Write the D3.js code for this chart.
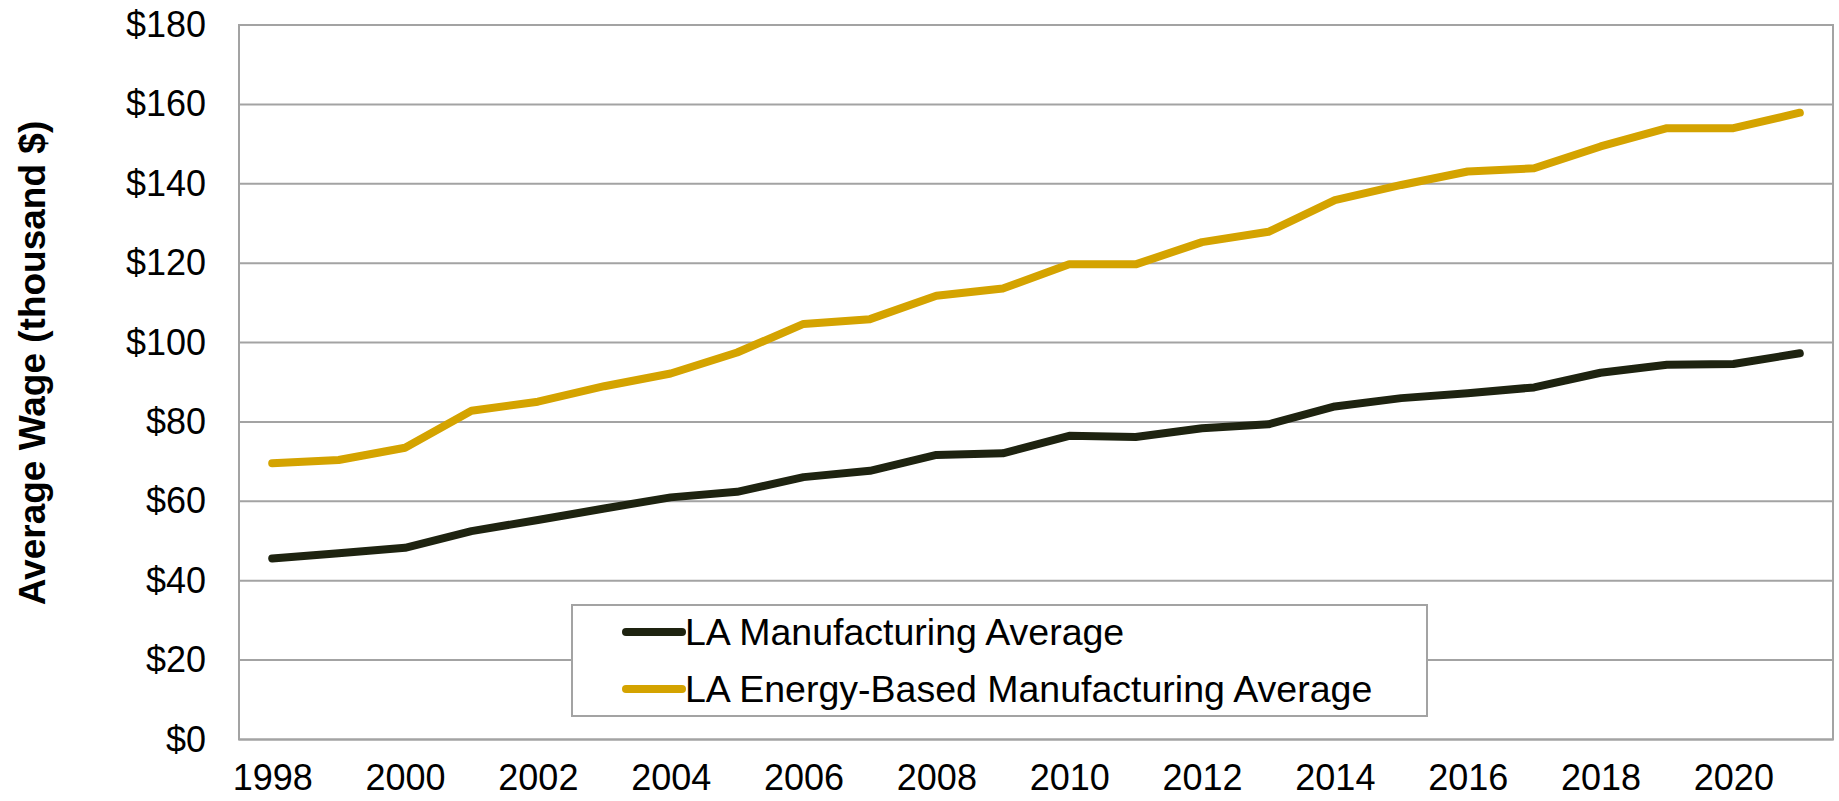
<!DOCTYPE html>
<html>
<head>
<meta charset="utf-8">
<script src="https://cdn.jsdelivr.net/npm/d3@7"></script>
<style>
  html, body { margin: 0; padding: 0; background: #ffffff; }
  svg { display: block; font-family: "Liberation Sans", Arial, sans-serif; }
</style>
</head>
<body>
<svg id="chart" width="1839" height="801"></svg>
<script>
// Average annual wage, thousand dollars
const years = [1998, 1999, 2000, 2001, 2002, 2003, 2004, 2005, 2006, 2007, 2008, 2009,
               2010, 2011, 2012, 2013, 2014, 2015, 2016, 2017, 2018, 2019, 2020, 2021];
const laManufacturing = [45.6, 46.9, 48.3, 52.5, 55.3, 58.2, 61.0, 62.4, 66.1, 67.7, 71.7, 72.1,
                         76.5, 76.2, 78.4, 79.4, 83.9, 86.0, 87.2, 88.7, 92.4, 94.4, 94.6, 97.3];
const laEnergyManufacturing = [69.6, 70.4, 73.5, 82.8, 85.1, 89.0, 92.2, 97.5, 104.7, 105.9, 111.8, 113.6,
                               119.7, 119.7, 125.3, 127.9, 135.9, 139.7, 143.1, 143.9, 149.4, 154.0, 154.0, 157.9];
const yTicks = [0, 20, 40, 60, 80, 100, 120, 140, 160, 180];
const xTickYears = [1998, 2000, 2002, 2004, 2006, 2008, 2010, 2012, 2014, 2016, 2018, 2020];
const seriesNames = ["LA Manufacturing Average", "LA Energy-Based Manufacturing Average"];
const seriesColors = ["#1e2310", "#d4a300"];

const svg = d3.select("#chart");
const plot = { left: 239, right: 1833, top: 25, bottom: 739.5 };
const grey = "#a3a3a3";

const x = d3.scalePoint().domain(years).range([plot.left, plot.right]).padding(0.5);
const y = d3.scaleLinear().domain([0, 180]).range([plot.bottom, plot.top]);

// horizontal gridlines
svg.append("g")
  .selectAll("line")
  .data(yTicks)
  .join("line")
  .attr("x1", plot.left).attr("x2", plot.right)
  .attr("y1", d => y(d)).attr("y2", d => y(d))
  .attr("stroke", grey).attr("stroke-width", 2);

// plot frame
svg.append("rect")
  .attr("x", plot.left).attr("y", plot.top)
  .attr("width", plot.right - plot.left).attr("height", plot.bottom - plot.top)
  .attr("fill", "none").attr("stroke", grey).attr("stroke-width", 2);

// y axis labels
const yAxis = d3.axisLeft(y).tickValues(yTicks).tickFormat(d => "$" + d).tickSize(0).tickPadding(33);
const gy = svg.append("g").attr("transform", `translate(${plot.left},0)`).call(yAxis);
gy.select(".domain").remove();
gy.selectAll("text")
  .attr("font-size", 36).attr("fill", "#000")
  .attr("font-family", "'Liberation Sans', Arial, sans-serif");

// x axis labels
const xAxis = d3.axisBottom(x).tickValues(xTickYears).tickSize(0).tickPadding(25);
const gx = svg.append("g").attr("transform", `translate(0,${plot.bottom})`).call(xAxis);
gx.select(".domain").remove();
gx.selectAll("text")
  .attr("font-size", 36).attr("fill", "#000")
  .attr("font-family", "'Liberation Sans', Arial, sans-serif");

// y axis title
svg.append("text")
  .attr("transform", "translate(45,363) rotate(-90)")
  .attr("text-anchor", "middle")
  .attr("font-size", 37).attr("font-weight", "bold").attr("fill", "#000")
  .text("Average Wage (thousand $)");

// series lines
const line = d3.line().x((d, i) => x(years[i])).y(d => y(d));
[laManufacturing, laEnergyManufacturing].forEach((vals, k) => {
  svg.append("path")
    .datum(vals)
    .attr("d", line)
    .attr("fill", "none")
    .attr("stroke", seriesColors[k])
    .attr("stroke-width", 8)
    .attr("stroke-linejoin", "round")
    .attr("stroke-linecap", "round");
});

// legend
const legend = svg.append("g").attr("transform", "translate(572,605)");
legend.append("rect")
  .attr("width", 855).attr("height", 111)
  .attr("fill", "#fff").attr("stroke", grey).attr("stroke-width", 2);
seriesNames.forEach((name, k) => {
  const row = legend.append("g").attr("transform", `translate(0,${27 + k * 57})`);
  row.append("line")
    .attr("x1", 54).attr("x2", 110).attr("y1", 0).attr("y2", 0)
    .attr("stroke", seriesColors[k]).attr("stroke-width", 8).attr("stroke-linecap", "round");
  row.append("text")
    .attr("x", 113).attr("y", 0).attr("dy", "0.35em")
    .attr("font-size", 37.5).attr("fill", "#000")
    .text(name);
});
</script>
</body>
</html>
